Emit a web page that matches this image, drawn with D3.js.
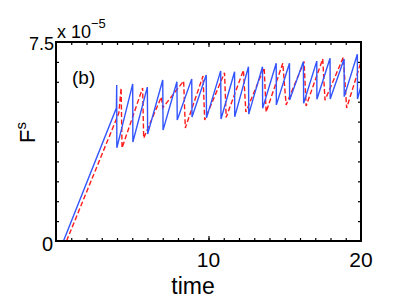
<!DOCTYPE html>
<html>
<head>
<meta charset="utf-8">
<script src="https://cdn.jsdelivr.net/npm/d3@7"></script>
<style>
  body { margin: 0; background: #fff; }
  text { font-family: "Liberation Sans", Arial, sans-serif; fill: #000; }
</style>
</head>
<body>
<script>
// chart size
var width = 409;
var height = 300;
var margin = {left: 56, right: 48, top: 42, bottom: 59};

// data (F^s in units of 1e-5)
var blueTime = [0.49, 3.96, 3.98, 3.99, 5.03, 5.04, 5.99, 6.01, 7.00, 7.02, 7.93, 7.95,
                8.90, 8.92, 9.85, 9.87, 10.80, 10.82, 11.71, 11.72, 12.62, 12.64, 13.54, 13.55,
                14.44, 14.45, 15.31, 15.32, 16.22, 16.24, 17.10, 17.11, 17.97, 17.98,
                18.89, 18.90, 19.76, 19.77, 20.0];
var blueForce = [0, 5.01, 5.88, 3.51, 5.92, 3.73, 5.80, 4.03, 6.07, 4.18, 6.00, 4.56,
                 6.11, 4.67, 6.26, 4.64, 6.41, 4.60, 6.38, 4.68, 6.57, 4.78, 6.57, 5.00,
                 6.70, 5.13, 6.70, 5.31, 6.76, 5.19, 6.78, 5.34, 6.89, 5.35,
                 6.86, 5.44, 7.04, 5.35, 5.84];
var redTime = [0.69, 4.12, 4.27, 4.33, 5.68, 5.75, 6.91, 7.00, 8.37, 8.48, 9.64, 9.75,
               11.05, 11.16, 12.29, 12.45, 13.65, 13.78, 14.87, 15.09, 16.27, 16.40,
               17.49, 17.64, 18.84, 19.06, 20.0];
var redForce = [0, 4.82, 5.77, 3.51, 5.77, 3.88, 5.43, 5.02, 6.03, 4.26, 6.22, 4.56,
                6.34, 4.66, 6.44, 4.86, 6.53, 4.86, 6.70, 5.13, 6.76, 5.09,
                6.86, 5.31, 6.92, 5.01, 6.75];
var xTicks = [10, 20];
var xTickLabels = ["10", "20"];

var svg = d3.select("body").append("svg")
            .attr("width", width)
            .attr("height", height);

var x = d3.scaleLinear().domain([0, 20]).range([margin.left, width - margin.right]);
var y = d3.scaleLinear().domain([0, 7.5]).range([height - margin.bottom, margin.top]);

var blue = blueTime.map(function(t, i) { return [t, blueForce[i]]; });
var red = redTime.map(function(t, i) { return [t, redForce[i]]; });

var line = d3.line()
             .x(function(d) { return x(d[0]); })
             .y(function(d) { return y(d[1]); });

svg.append("path")
   .datum(red)
   .attr("d", line)
   .attr("fill", "none")
   .attr("stroke", "#ff1a1a")
   .attr("stroke-width", 1.4)
   .attr("stroke-dasharray", "5,2.5");

svg.append("path")
   .datum(blue)
   .attr("d", line)
   .attr("fill", "none")
   .attr("stroke", "#3355ff")
   .attr("stroke-width", 1.4);

// axes: ticks inward on all four sides
var minorX = d3.range(1, 20);
var minorY = d3.range(1, 10).map(function(i) { return i * 0.75; });

function noDomain(g) { g.select(".domain").remove(); }

svg.append("g")
   .attr("transform", "translate(0," + y(0) + ")")
   .call(d3.axisBottom(x).tickValues(minorX).tickSize(-3).tickFormat(""))
   .call(noDomain);
svg.append("g")
   .attr("transform", "translate(0," + y(7.5) + ")")
   .call(d3.axisTop(x).tickValues(minorX).tickSize(-3).tickFormat(""))
   .call(noDomain);
svg.append("g")
   .attr("transform", "translate(0," + y(0) + ")")
   .call(d3.axisBottom(x).tickValues([10]).tickSize(-5).tickFormat(""))
   .call(noDomain);
svg.append("g")
   .attr("transform", "translate(0," + y(7.5) + ")")
   .call(d3.axisTop(x).tickValues([10]).tickSize(-5).tickFormat(""))
   .call(noDomain);
svg.append("g")
   .attr("transform", "translate(" + x(0) + ",0)")
   .call(d3.axisLeft(y).tickValues(minorY).tickSize(-3).tickFormat(""))
   .call(noDomain);
svg.append("g")
   .attr("transform", "translate(" + x(20) + ",0)")
   .call(d3.axisRight(y).tickValues(minorY).tickSize(-3).tickFormat(""))
   .call(noDomain);
svg.selectAll(".tick line").attr("stroke", "#000").attr("stroke-width", 1.2);

// frame
svg.append("rect")
   .attr("x", x(0))
   .attr("y", y(7.5))
   .attr("width", x(20) - x(0))
   .attr("height", y(0) - y(7.5))
   .attr("fill", "none")
   .attr("stroke", "#000")
   .attr("stroke-width", 2);

// tick labels
svg.selectAll("text.xlab")
   .data(xTicks)
   .enter().append("text")
   .attr("class", "xlab")
   .attr("x", function(d) { return x(d); })
   .attr("y", y(0) + 26)
   .attr("text-anchor", "middle")
   .attr("font-size", 21)
   .text(function(d, i) { return xTickLabels[i]; });

svg.append("text")
   .attr("x", x(0) - 3)
   .attr("y", y(0) + 10)
   .attr("text-anchor", "end")
   .attr("font-size", 20)
   .text("0");
svg.append("text")
   .attr("x", x(0) - 2)
   .attr("y", y(7.5) + 8)
   .attr("text-anchor", "end")
   .attr("font-size", 18)
   .text("7.5");

// exponent
var expo = svg.append("text")
   .attr("x", x(0) + 1)
   .attr("y", y(7.5) - 4)
   .attr("font-size", 18);
expo.append("tspan").text("x 10");
expo.append("tspan").attr("dy", -10).attr("font-size", 13).text("\u22125");

// axis labels
svg.append("text")
   .attr("x", 193)
   .attr("y", 294)
   .attr("text-anchor", "middle")
   .attr("font-size", 23)
   .text("time");

var ylab = svg.append("text")
   .attr("transform", "translate(35,143) rotate(-90)")
   .attr("font-size", 22);
ylab.append("tspan").text("F");
ylab.append("tspan").attr("dy", -9).attr("font-size", 15).text("s");

svg.append("text")
   .attr("x", 72)
   .attr("y", 84)
   .attr("font-size", 19)
   .text("(b)");
</script>
</body>
</html>
